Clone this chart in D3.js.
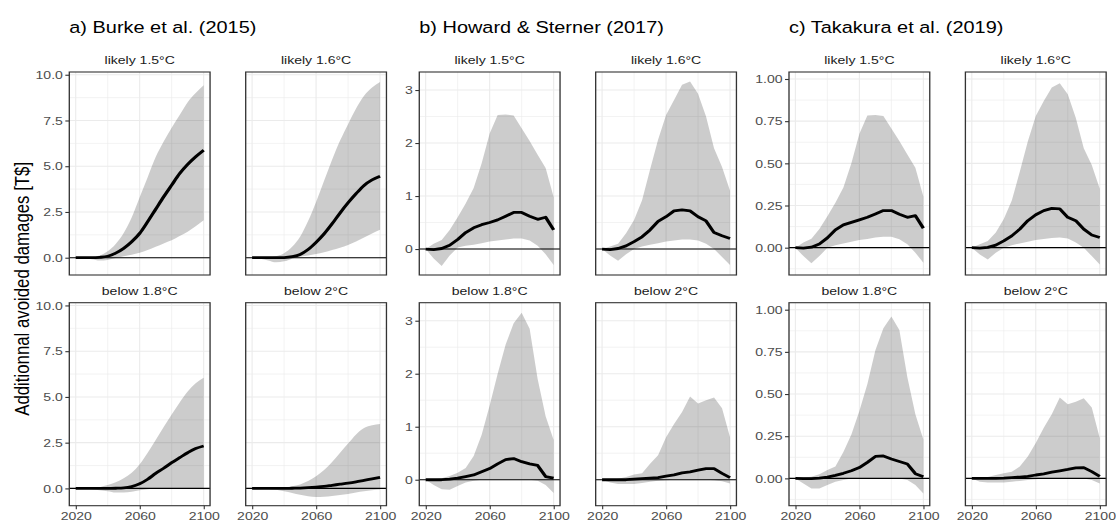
<!DOCTYPE html>
<html>
<head>
<meta charset="utf-8">
<script src="https://cdn.jsdelivr.net/npm/d3@7"></script>
<style>
  html, body { margin: 0; padding: 0; background: #ffffff; }
  svg { display: block; }
  text { font-family: "Liberation Sans", Arial, Helvetica, sans-serif; }
</style>
</head>
<body>
<script>
// ---------------- data ----------------
const years = [2020,2025,2030,2035,2040,2045,2050,2055,2060,2065,2070,2075,2080,2085,2090,2095,2100];
const modelTitles = ["a) Burke et al. (2015)", "b) Howard & Sterner (2017)", "c) Takakura et al. (2019)"];
const scenarios = ["likely 1.5°C", "likely 1.6°C", "below 1.8°C", "below 2°C"];
const yAxisTitle = "Additionnal avoided damages [T$]";

const xTicks = [2020, 2060, 2100];
const xMinor = [2040, 2080];
const yTicksBurke = [0, 2.5, 5, 7.5, 10];
const yTicksHoward = [0, 1, 2, 3];
const yTicksTakakura = [0, 0.25, 0.5, 0.75, 1];
const yLimBurke = [-0.945, 10.15];
const yLimHoward = [-0.49, 3.34];
const yLimTakakura = [-0.162, 1.0415];

// Burke et al. (2015)
const burke_l15_mean = [0,0,0,0.02,0.08,0.25,0.51,0.87,1.33,1.97,2.65,3.33,3.97,4.6,5.1,5.52,5.88];
const burke_l15_lo   = [0,-0.02,-0.08,-0.15,-0.12,-0.02,0.08,0.16,0.27,0.42,0.6,0.78,0.95,1.18,1.42,1.72,2.05];
const burke_l15_hi   = [0,0,0.03,0.12,0.35,0.75,1.35,2.2,3.3,4.4,5.5,6.35,7.1,7.8,8.5,9.0,9.43];
const burke_l16_mean = [0,0,0,0,0.01,0.06,0.18,0.45,0.84,1.3,1.85,2.45,3.0,3.5,3.95,4.25,4.45];
const burke_l16_lo   = [0,-0.05,-0.15,-0.25,-0.2,-0.05,0.05,0.12,0.2,0.3,0.42,0.55,0.7,0.88,1.1,1.33,1.53];
const burke_l16_hi   = [0,0,0.02,0.08,0.25,0.6,1.15,2.0,3.05,4.2,5.35,6.4,7.3,8.15,8.85,9.3,9.6];
const burke_b18_mean = [0,0,0,0,0,0.01,0.03,0.1,0.25,0.5,0.82,1.1,1.41,1.68,1.95,2.18,2.32];
const burke_b18_lo   = [0,-0.01,-0.04,-0.1,-0.15,-0.22,-0.22,-0.18,-0.1,-0.04,0,0,0,0,0,0,0];
const burke_b18_hi   = [0,0,0.02,0.07,0.18,0.33,0.55,0.85,1.32,1.95,2.65,3.35,4.04,4.7,5.3,5.75,6.05];
const burke_b2_mean  = [0,0,0,0,0,0.01,0.02,0.04,0.07,0.11,0.17,0.23,0.29,0.36,0.44,0.52,0.6];
const burke_b2_lo    = [0,0,-0.03,-0.08,-0.16,-0.25,-0.35,-0.43,-0.47,-0.46,-0.42,-0.36,-0.3,-0.22,-0.15,-0.1,-0.06];
const burke_b2_hi    = [0,0,0,0.02,0.05,0.12,0.22,0.4,0.66,1.0,1.45,1.95,2.45,2.95,3.3,3.45,3.52];

// Howard & Sterner (2017)
const howard_l15_mean = [0,-0.01,0.01,0.07,0.18,0.31,0.4,0.46,0.5,0.55,0.62,0.69,0.69,0.62,0.56,0.6,0.36];
const howard_l15_lo   = [0,-0.18,-0.32,-0.12,0.03,0.06,0.08,0.11,0.14,0.16,0.18,0.2,0.2,0.16,0.06,-0.1,-0.3];
const howard_l15_hi   = [0,0.1,0.17,0.36,0.6,0.86,1.15,1.62,2.18,2.53,2.54,2.52,2.28,2.04,1.78,1.53,0.98];
const howard_l16_mean = [0,-0.01,0.01,0.06,0.14,0.23,0.36,0.52,0.61,0.72,0.74,0.72,0.61,0.53,0.31,0.25,0.2];
const howard_l16_lo   = [0,-0.12,-0.22,-0.1,0,0.05,0.08,0.11,0.14,0.16,0.18,0.18,0.16,0.1,0,-0.15,-0.3];
const howard_l16_hi   = [0,0.05,0.1,0.3,0.55,0.92,1.5,2.06,2.53,2.81,3.1,3.16,2.93,2.5,1.9,1.55,1.1];
const howard_b18_mean = [0,0,0,0.01,0.03,0.06,0.09,0.15,0.21,0.3,0.38,0.4,0.34,0.3,0.27,0.06,0.03];
const howard_b18_lo   = [0,-0.1,-0.18,-0.19,-0.12,-0.05,-0.02,0,0,0,0,0,0,0,-0.02,-0.1,-0.25];
const howard_b18_hi   = [0,0.01,0.03,0.07,0.13,0.22,0.45,0.85,1.4,2.0,2.55,2.95,3.15,2.85,1.9,1.2,0.75];
const howard_b2_mean  = [0,0,0,0,0.01,0.02,0.03,0.04,0.07,0.09,0.13,0.15,0.18,0.21,0.21,0.12,0.04];
const howard_b2_lo    = [0,-0.05,-0.08,-0.08,-0.08,-0.06,-0.04,-0.02,-0.01,0,0,0,0,0,-0.01,-0.03,-0.07];
const howard_b2_hi    = [0,0,0.02,0.05,0.1,0.12,0.3,0.46,0.8,1.05,1.28,1.57,1.44,1.5,1.55,1.35,0.8];

// Takakura et al. (2019)
const takakura_l15_mean = [0,-0.003,0.003,0.022,0.058,0.106,0.135,0.15,0.165,0.18,0.2,0.22,0.22,0.198,0.18,0.19,0.115];
const takakura_l15_lo   = [0,-0.05,-0.093,-0.05,0,0.015,0.025,0.035,0.045,0.052,0.06,0.065,0.065,0.05,0.02,-0.03,-0.09];
const takakura_l15_hi   = [0,0.03,0.053,0.11,0.186,0.267,0.357,0.5,0.676,0.784,0.787,0.78,0.707,0.632,0.552,0.474,0.304];
const takakura_l16_mean = [0,-0.003,0.002,0.015,0.04,0.07,0.11,0.16,0.195,0.22,0.233,0.23,0.18,0.16,0.11,0.075,0.06];
const takakura_l16_lo   = [0,-0.04,-0.07,-0.03,0,0.015,0.025,0.035,0.045,0.052,0.058,0.06,0.055,0.03,0,-0.05,-0.1];
const takakura_l16_hi   = [0,0.02,0.04,0.09,0.17,0.28,0.45,0.63,0.78,0.87,0.95,0.975,0.91,0.77,0.59,0.49,0.35];
const takakura_b18_mean = [0,-0.002,-0.002,0.002,0.008,0.018,0.03,0.045,0.064,0.095,0.13,0.133,0.115,0.1,0.085,0.028,0.01];
const takakura_b18_lo   = [0,-0.03,-0.06,-0.06,-0.04,-0.02,-0.01,0,0,0,0,0,0,0,-0.01,-0.04,-0.09];
const takakura_b18_hi   = [0,0.005,0.01,0.025,0.05,0.07,0.156,0.26,0.4,0.56,0.76,0.89,0.96,0.88,0.6,0.38,0.23];
const takakura_b2_mean  = [0,0,0,0,0.002,0.005,0.008,0.012,0.02,0.027,0.037,0.045,0.053,0.062,0.064,0.04,0.012];
const takakura_b2_lo    = [0,-0.02,-0.025,-0.025,-0.025,-0.02,-0.015,-0.01,-0.005,0,0,0,0,0,0,-0.01,-0.03];
const takakura_b2_hi    = [0,0.002,0.008,0.02,0.03,0.04,0.07,0.13,0.21,0.3,0.38,0.48,0.44,0.455,0.475,0.42,0.24];

// ---------------- assembly ----------------
const groups = [
  { title: modelTitles[0], yLim: yLimBurke, yTicks: yTicksBurke, fmt: d3.format(".1f"), curve: d3.curveMonotoneX,
    series: [[burke_l15_mean, burke_l15_lo, burke_l15_hi],[burke_l16_mean, burke_l16_lo, burke_l16_hi],
             [burke_b18_mean, burke_b18_lo, burke_b18_hi],[burke_b2_mean, burke_b2_lo, burke_b2_hi]] },
  { title: modelTitles[1], yLim: yLimHoward, yTicks: yTicksHoward, fmt: d3.format("d"), curve: d3.curveLinear,
    series: [[howard_l15_mean, howard_l15_lo, howard_l15_hi],[howard_l16_mean, howard_l16_lo, howard_l16_hi],
             [howard_b18_mean, howard_b18_lo, howard_b18_hi],[howard_b2_mean, howard_b2_lo, howard_b2_hi]] },
  { title: modelTitles[2], yLim: yLimTakakura, yTicks: yTicksTakakura, fmt: d3.format(".2f"), curve: d3.curveLinear,
    series: [[takakura_l15_mean, takakura_l15_lo, takakura_l15_hi],[takakura_l16_mean, takakura_l16_lo, takakura_l16_hi],
             [takakura_b18_mean, takakura_b18_lo, takakura_b18_hi],[takakura_b2_mean, takakura_b2_lo, takakura_b2_hi]] }
];

// ---------------- layout (internal units; stretched horizontally to 1116 px) ----------------
const OUT_W = 1116, OUT_H = 523, STRETCH = 1.2;
const W = OUT_W / STRETCH;
const groupLeft = [57.75, 349.4, 657.5];
const colOffset = 147;
const panelW = 117.3, panelH = 203;
const rowTop = [72, 302.7];

const svg = d3.select("body").append("svg")
  .attr("width", OUT_W).attr("height", OUT_H)
  .attr("viewBox", `0 0 ${W} ${OUT_H}`)
  .attr("preserveAspectRatio", "none");

svg.append("rect").attr("width", W).attr("height", OUT_H).attr("fill", "#ffffff");

// y-axis title
svg.append("text")
  .attr("transform", `translate(${21.5 / STRETCH},${(rowTop[0] + rowTop[1] + panelH) / 2}) rotate(-90)`)
  .attr("text-anchor", "middle")
  .attr("dominant-baseline", "central")
  .attr("font-size", 16.8)
  .attr("fill", "#000000")
  .text(yAxisTitle);

function minorBreaks(major, dom) {
  const out = [];
  const step = major[1] - major[0];
  const ext = [major[0] - step, ...major, major[major.length - 1] + step];
  for (let i = 0; i < ext.length - 1; i++) {
    const m = (ext[i] + ext[i + 1]) / 2;
    if (m >= dom[0] && m <= dom[1]) out.push(m);
  }
  return out;
}

const x = d3.scaleLinear().domain([2016, 2104]).range([0, panelW]);

groups.forEach((g, gi) => {
  const y = d3.scaleLinear().domain(g.yLim).range([panelH, 0]);
  const yMinor = minorBreaks(g.yTicks, g.yLim);

  svg.append("text")
    .attr("x", groupLeft[gi]).attr("y", 33.5)
    .attr("font-size", 16.6).attr("fill", "#000000")
    .text(g.title);

  scenarios.forEach((sc, si) => {
    const col = si % 2, row = Math.floor(si / 2);
    const px = groupLeft[gi] + col * colOffset, py = rowTop[row];
    const p = svg.append("g").attr("transform", `translate(${px},${py})`);
    const [mean, lo, hi] = g.series[si];
    const data = years.map((yr, i) => ({ yr, m: mean[i], lo: lo[i], hi: hi[i] }));

    p.append("rect").attr("width", panelW).attr("height", panelH).attr("fill", "#ffffff");

    // minor grid
    p.selectAll(".gyMin").data(yMinor).join("line")
      .attr("x1", 0).attr("x2", panelW).attr("y1", d => y(d)).attr("y2", d => y(d))
      .attr("stroke", "#EBEBEB").attr("stroke-width", 0.55);
    p.selectAll(".gxMin").data(xMinor).join("line")
      .attr("y1", 0).attr("y2", panelH).attr("x1", d => x(d)).attr("x2", d => x(d))
      .attr("stroke", "#EBEBEB").attr("stroke-width", 0.55 / STRETCH * 1.2);
    // major grid
    p.selectAll(".gyMaj").data(g.yTicks).join("line")
      .attr("x1", 0).attr("x2", panelW).attr("y1", d => y(d)).attr("y2", d => y(d))
      .attr("stroke", "#EBEBEB").attr("stroke-width", 1.1);
    p.selectAll(".gxMaj").data(xTicks).join("line")
      .attr("y1", 0).attr("y2", panelH).attr("x1", d => x(d)).attr("x2", d => x(d))
      .attr("stroke", "#EBEBEB").attr("stroke-width", 1.1 / STRETCH);

    // ribbon
    p.append("path").datum(data)
      .attr("d", d3.area().curve(g.curve).x(d => x(d.yr)).y0(d => y(d.lo)).y1(d => y(d.hi)))
      .attr("fill", "#000000").attr("fill-opacity", 0.2).attr("stroke", "none");

    // zero line
    p.append("line").attr("x1", 0).attr("x2", panelW).attr("y1", y(0)).attr("y2", y(0))
      .attr("stroke", "#000000").attr("stroke-width", 1.1);

    // mean line
    p.append("path").datum(data)
      .attr("d", d3.line().curve(g.curve).x(d => x(d.yr)).y(d => y(d.m)))
      .attr("fill", "none").attr("stroke", "#000000").attr("stroke-width", 2.8)
      .attr("stroke-linejoin", "round").attr("stroke-linecap", "butt");

    // border
    p.append("rect").attr("width", panelW).attr("height", panelH)
      .attr("fill", "none").attr("stroke", "#333333").attr("stroke-width", 1.1);

    // strip label
    svg.append("text")
      .attr("x", px + panelW / 2).attr("y", py - 7.5)
      .attr("text-anchor", "middle").attr("font-size", 11.7).attr("fill", "#1A1A1A")
      .text(sc);

    // y axis on left column
    if (col === 0) {
      const ax = p.append("g").call(d3.axisLeft(y).tickValues(g.yTicks).tickFormat(g.fmt).tickSize(3.3).tickPadding(2.1));
      ax.select(".domain").remove();
      ax.selectAll(".tick line").attr("stroke", "#333333").attr("stroke-width", 1.1);
      ax.selectAll(".tick text").attr("fill", "#4D4D4D").attr("font-size", 11.7)
        .attr("font-family", '"Liberation Sans", Arial, Helvetica, sans-serif');
    }
    // x axis on bottom row
    if (row === 1) {
      const ax = p.append("g").attr("transform", `translate(0,${panelH})`)
        .call(d3.axisBottom(x).tickValues(xTicks).tickFormat(d3.format("d")).tickSize(3.6).tickPadding(2.6));
      ax.select(".domain").remove();
      ax.selectAll(".tick line").attr("stroke", "#333333").attr("stroke-width", 1.1 / STRETCH);
      ax.selectAll(".tick text").attr("fill", "#4D4D4D").attr("font-size", 11.7)
        .attr("font-family", '"Liberation Sans", Arial, Helvetica, sans-serif');
    }
  });
});
</script>
</body>
</html>
